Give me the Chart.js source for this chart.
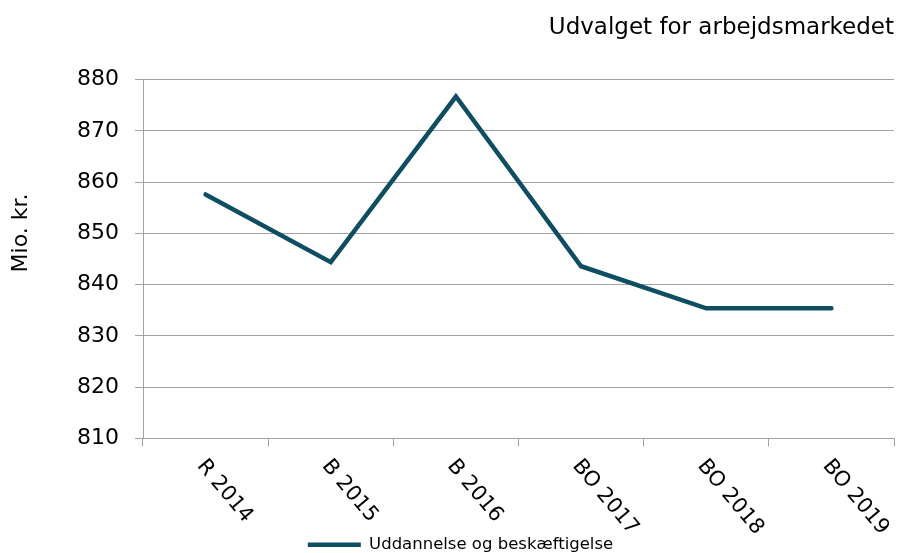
<!DOCTYPE html>
<html>
<head>
<meta charset="utf-8">
<script src="https://cdn.jsdelivr.net/npm/chart.js@4.4.0/dist/chart.umd.min.js"></script>
<style>
  body { margin: 0; background: #fff; }
  #wrap { width: 909px; height: 553px; }
</style>
</head>
<body>
<div id="wrap"><canvas id="myChart"></canvas></div>
<script>
const ctx = document.getElementById("myChart");

// data
var years = ['R 2014', 'B 2015', 'B 2016', 'BO 2017', 'BO 2018', 'BO 2019'];
var udd = [857.6, 844.4, 876.7, 843.6, 835.4, 835.4];
var yTicks = [810, 820, 830, 840, 850, 860, 870, 880];

var lineColor = '#0e4d62';
var gridColor = '#a3a3a3';
var fontName = "'DejaVu Sans', Verdana, sans-serif";

// rotated x labels (going down to the right) + y title
const extraText = {
  id: 'extraText',
  afterDraw(chart) {
    const c = chart.ctx;
    const xs = chart.scales.x;
    c.save();
    c.fillStyle = '#000';
    c.font = '21px ' + fontName;
    c.textAlign = 'left';
    c.textBaseline = 'middle';
    years.forEach(function (lab, i) {
      c.save();
      c.translate(xs.getPixelForValue(i) - 5, xs.top + 24);
      c.rotate(50 * Math.PI / 180);
      c.fillText(lab, 0, 0);
      c.restore();
    });
    // y axis title
    c.save();
    c.font = '22px ' + fontName;
    c.textAlign = 'center';
    c.textBaseline = 'middle';
    c.translate(21, 233);
    c.rotate(-Math.PI / 2);
    c.fillText('Mio. kr.', 0, 0);
    c.restore();
    c.restore();
  }
};

new Chart(ctx, {
  type: 'line',
  data: {
    labels: years,
    datasets: [{
      label: 'Uddannelse og beskæftigelse',
      data: udd,
      borderColor: lineColor,
      backgroundColor: lineColor,
      borderWidth: 4.5,
      borderCapStyle: 'round',
      pointRadius: 0,
      pointStyle: 'line',
      tension: 0
    }]
  },
  options: {
    responsive: true,
    maintainAspectRatio: false,
    animation: false,
    layout: { padding: { left: 27, right: 15, top: 0, bottom: -10 } },
    plugins: {
      title: {
        display: true,
        text: 'Udvalget for arbejdsmarkedet',
        align: 'end',
        color: '#000',
        font: { family: fontName, size: 23, weight: 'normal' },
        padding: { top: 14, bottom: 38 }
      },
      legend: {
        position: 'bottom',
        labels: {
          color: '#000',
          font: { family: fontName, size: 16.5, lineHeight: 1 },
          usePointStyle: true,
          pointStyleWidth: 53,
          boxHeight: 4,
          padding: 0
        }
      },
      tooltip: { enabled: false }
    },
    scales: {
      x: {
        offset: true,
        grid: {
          offset: true,
          drawOnChartArea: false,
          color: gridColor,
          tickLength: 8
        },
        border: { color: gridColor },
        ticks: { display: false },
        afterFit: function (s) { s.height = 98; }
      },
      y: {
        min: 810,
        max: 880,
        afterBuildTicks: function (s) { s.ticks = yTicks.map(v => ({ value: v })); },
        grid: { color: gridColor, tickLength: 8 },
        border: { color: gridColor },
        ticks: {
          color: '#000',
          padding: 16,
          font: { family: fontName, size: 22 }
        },
        afterFit: function (s) { s.width = 116; }
      }
    }
  },
  plugins: [extraText]
});
</script>
</body>
</html>
